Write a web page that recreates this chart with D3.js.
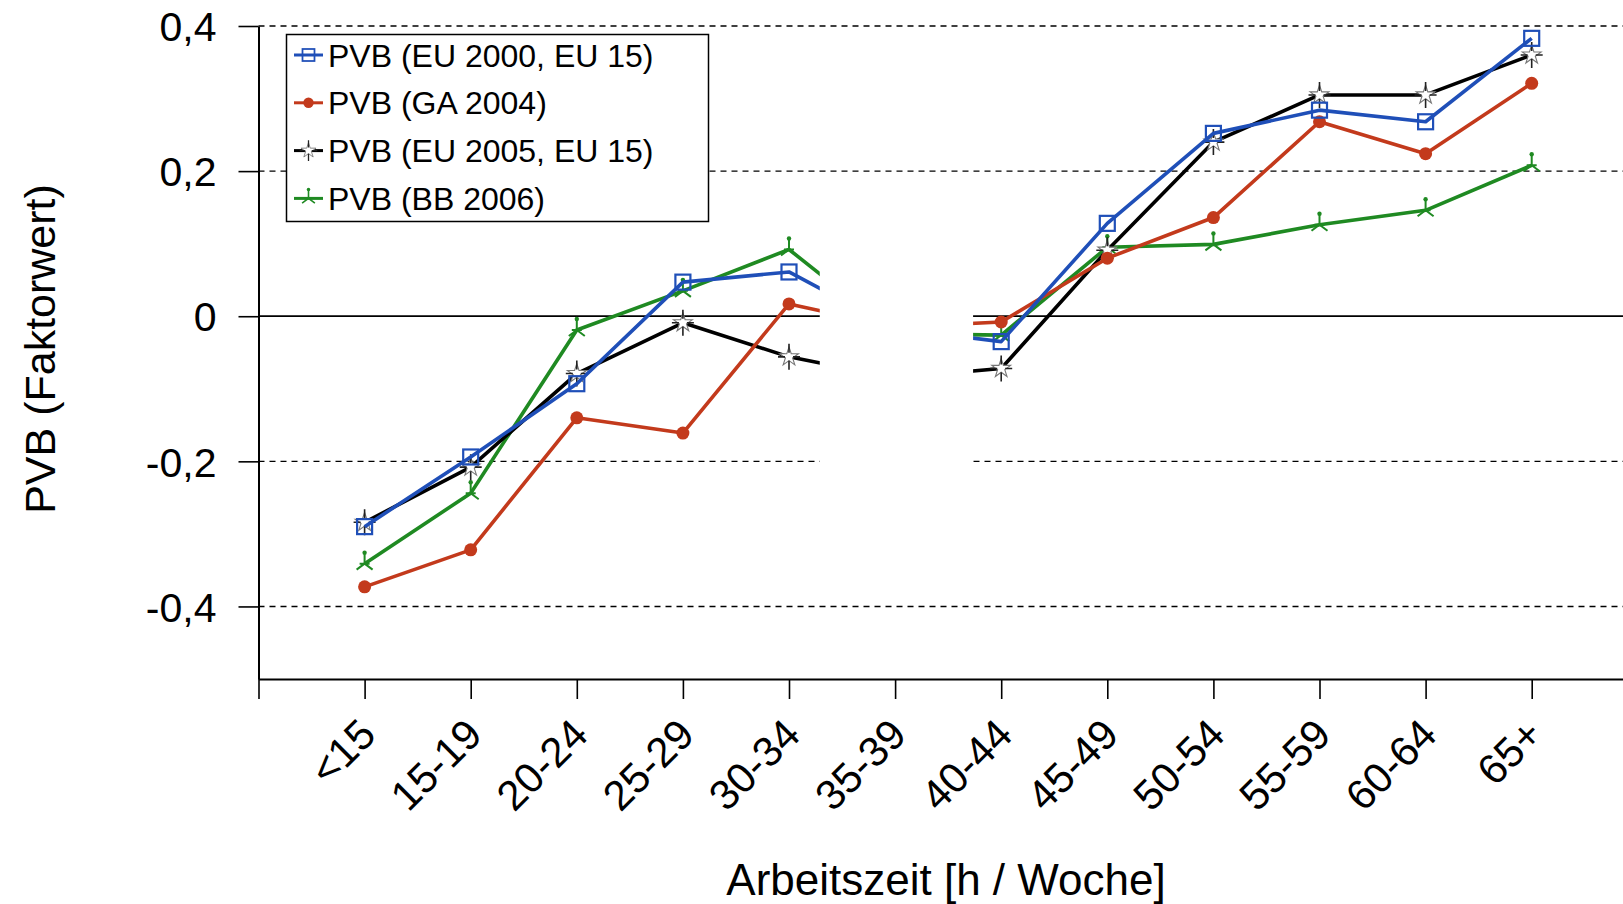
<!DOCTYPE html>
<html>
<head>
<meta charset="utf-8">
<script src="https://cdn.jsdelivr.net/npm/d3@7"></script>
<style>
  html, body { margin: 0; padding: 0; background: #fff; }
  svg { display: block; font-family: "Liberation Sans", Arial, sans-serif; }
</style>
</head>
<body>
<script>
// ---------- data ----------
const categories = ["<15","15-19","20-24","25-29","30-34","35-39","40-44","45-49","50-54","55-59","60-64","65+"];
const seriesNames = ["PVB (EU 2000, EU 15)", "PVB (GA 2004)", "PVB (EU 2005, EU 15)", "PVB (BB 2006)"];
const eu2000 = [-0.290, -0.194, -0.093, 0.047, 0.061, -0.017, -0.035, 0.128, 0.252, 0.284, 0.268, 0.383];
const ga2004 = [-0.373, -0.322, -0.140, -0.161, 0.017, -0.015, -0.008, 0.080, 0.136, 0.268, 0.224, 0.321];
const eu2005 = [-0.284, -0.208, -0.079, -0.009, -0.056, -0.085, -0.072, 0.091, 0.240, 0.305, 0.305, 0.360];
const bb2006 = [-0.341, -0.244, -0.019, 0.035, 0.092, -0.024, -0.026, 0.095, 0.099, 0.126, 0.146, 0.208];
const yTicks = [-0.4, -0.2, 0, 0.2, 0.4];
const yTickLabels = ["-0,4", "-0,2", "0", "0,2", "0,4"];
const yTitle = "PVB (Faktorwert)";
const xTitle = "Arbeitszeit [h / Woche]";
// hidden band of the original figure (category index units / value units)
const hiddenIdx = [4.29, 5.735];
const hiddenVal = [0.15, -0.3];

// ---------- setup ----------
const W = 1623, H = 904;
const svg = d3.select("body").append("svg").attr("width", W).attr("height", H);
svg.append("rect").attr("width", W).attr("height", H).attr("fill", "#fff");

const x = d3.scaleLinear().domain([-1, 12]).range([258.5, 258.5 + 13 * 106.1]);
const y = d3.scaleLinear().domain([-0.5, 0.4]).range([679, 26]);

// gridlines
svg.append("g").selectAll("line").data(yTicks).join("line")
  .attr("x1", x(-1)).attr("x2", W)
  .attr("y1", d => y(d)).attr("y2", d => y(d))
  .attr("stroke", "#000")
  .attr("stroke-width", d => d === 0 ? 1.7 : 1.4)
  .attr("stroke-dasharray", d => d === 0 ? null : "6,5");

// series
const series = [
  { name: seriesNames[3], values: bb2006, color: "#1f8a22", type: "wye" },
  { name: seriesNames[2], values: eu2005, color: "#000000", type: "star" },
  { name: seriesNames[1], values: ga2004, color: "#c33a1c", type: "circle" },
  { name: seriesNames[0], values: eu2000, color: "#1f4fb8", type: "square" }
];

function drawMarker(g, type, color) {
  if (type === "square") {
    g.append("rect").attr("x", -7.5).attr("y", -7.5).attr("width", 15).attr("height", 15)
      .attr("fill", "none").attr("stroke", color).attr("stroke-width", 2.2);
  } else if (type === "circle") {
    g.append("circle").attr("r", 6.5).attr("fill", color);
  } else if (type === "star") {
    g.append("path").attr("d", d3.symbol(d3.symbolStar).size(110)())
      .attr("fill", "#fff").attr("stroke", "#777").attr("stroke-width", 1.1);
    g.append("path").attr("d", "M0,-13V-4M0,4V13M-11,0H-4M4,0H11")
      .attr("stroke", "#222").attr("stroke-width", 1.6);
  } else if (type === "wye") {
    g.append("path").attr("d", "M0,0V-11M0,0L-8,6M0,0L8,6M-5,0H5")
      .attr("stroke", color).attr("stroke-width", 2).attr("fill", "none");
    g.append("circle").attr("cy", -11).attr("r", 2.2).attr("fill", color);
  }
}

const line = d3.line().x((d, i) => x(i)).y(d => y(d));
const plot = svg.append("g");
series.forEach(s => {
  plot.append("path").datum(s.values).attr("d", line)
    .attr("fill", "none").attr("stroke", s.color).attr("stroke-width", 3.6)
    .attr("stroke-linejoin", "round");
  s.values.forEach((v, i) => {
    const g = plot.append("g").attr("transform", `translate(${x(i)},${y(v)})`);
    drawMarker(g, s.type, s.color);
  });
});

// blank band (as in the original figure)
svg.append("rect")
  .attr("x", x(hiddenIdx[0])).attr("width", x(hiddenIdx[1]) - x(hiddenIdx[0]))
  .attr("y", y(hiddenVal[0])).attr("height", y(hiddenVal[1]) - y(hiddenVal[0]))
  .attr("fill", "#fff");

// y axis
const yAxis = svg.append("g").attr("transform", `translate(${x(-1)},0)`)
  .call(d3.axisLeft(y).tickValues(yTicks).tickSize(20).tickSizeOuter(0)
    .tickFormat((d, i) => yTickLabels[i]));
yAxis.select(".domain").attr("stroke-width", 2);
yAxis.selectAll(".tick line").attr("stroke-width", 1.6);
yAxis.selectAll(".tick text").attr("x", -42).attr("dy", "0.36em")
  .attr("font-size", 41).attr("fill", "#000")
  .attr("font-family", "'Liberation Sans', Arial, sans-serif");

// x axis
const xAxis = svg.append("g").attr("transform", `translate(0,${y(-0.5)})`)
  .call(d3.axisBottom(x).tickValues(d3.range(-1, 12)).tickSize(20).tickSizeOuter(0)
    .tickFormat(i => i >= 0 ? categories[i] : ""));
xAxis.select(".domain").attr("stroke-width", 2);
xAxis.selectAll(".tick line").attr("stroke-width", 1.6);
xAxis.selectAll(".tick text")
  .attr("x", 0).attr("y", 0).attr("dy", 0)
  .attr("text-anchor", "end")
  .attr("transform", "translate(13,58) rotate(-45)")
  .attr("font-size", 42).attr("fill", "#000")
  .attr("font-family", "'Liberation Sans', Arial, sans-serif");

// axis titles
svg.append("text").attr("transform", "translate(40,349) rotate(-90)")
  .attr("text-anchor", "middle").attr("dominant-baseline", "central")
  .attr("font-size", 43).text(yTitle);
svg.append("text").attr("x", 946).attr("y", 895)
  .attr("text-anchor", "middle").attr("font-size", 44).text(xTitle);

// legend
const legendOrder = [series[3], series[2], series[1], series[0]];
const lg = svg.append("g");
lg.append("rect").attr("x", 286.5).attr("y", 34.5).attr("width", 422).attr("height", 187)
  .attr("fill", "#fff").attr("stroke", "#000").attr("stroke-width", 1.5);
legendOrder.forEach((s, k) => {
  const base = 66.5 + k * 47.8;
  const cy = base - 11.5;
  lg.append("line").attr("x1", 294).attr("x2", 323).attr("y1", cy).attr("y2", cy)
    .attr("stroke", s.color).attr("stroke-width", 3);
  const g = lg.append("g").attr("transform", `translate(308.5,${cy}) scale(0.8)`);
  drawMarker(g, s.type, s.color);
  lg.append("text").attr("x", 328).attr("y", base).attr("font-size", 32).text(s.name);
});
</script>
</body>
</html>
